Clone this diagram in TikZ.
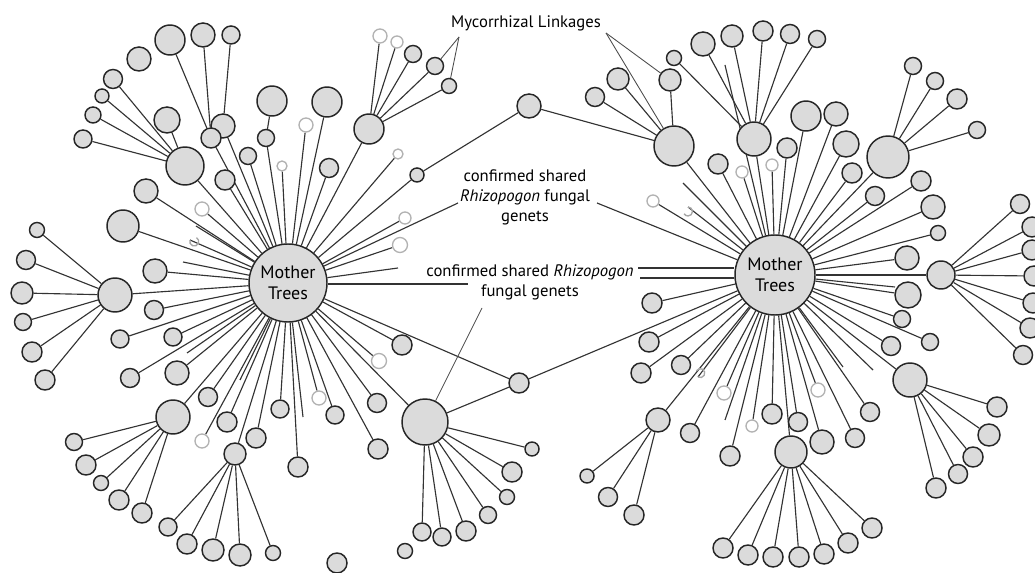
\documentclass[tikz,border=0pt]{standalone}
\usepackage{fontspec}
\setmainfont{PT Sans}
\usetikzlibrary{backgrounds}
\newcommand\mkgroup[2]{\foreach \n/\x/\y/\r in {#2} {\node[leaf=\r] (\n) at (\x,\y) {};
  \begin{pgfonlayer}{background}\draw[lk] (#1) -- (\n);\end{pgfonlayer}}}
\newcommand\mkfaint[2]{\foreach \n/\x/\y/\r in {#2} {\node[faint=\r] (\n) at (\x,\y) {};
  \begin{pgfonlayer}{background}\draw[lk] (#1) -- (\n);\end{pgfonlayer}}}
\newcommand\mkfree[2]{\foreach \n/\x/\y in {#2} {\coordinate (\n) at (\x,\y);
  \begin{pgfonlayer}{background}\draw[lk] (#1) -- (\n);\end{pgfonlayer}}}
\begin{document}
\begin{tikzpicture}[x=0.75pt,y=-0.75pt,
  leaf/.style={circle,draw=black!85,line width=1.1pt,fill=black!14,inner sep=0pt,minimum size={1.5pt*#1}},
  faint/.style={circle,draw=black!30,line width=1pt,fill=white,inner sep=0pt,minimum size={1.5pt*#1}},
  lk/.style={draw=black!80,line width=0.85pt},
  ptr/.style={draw=black!70,line width=0.65pt},
  hook/.style={draw=black!35,line width=1pt},
  lbl/.style={font=\fontsize{12.5}{15}\selectfont,align=center,inner sep=1pt},
  mt/.style={leaf=#1,font=\fontsize{13.5}{15.5}\selectfont,align=center}]
\useasboundingbox (0,0) rectangle (1035,573);
\begin{pgfonlayer}{background}
\fill[white] (0,0) rectangle (1035,573);
\end{pgfonlayer}
\clip (0,0) rectangle (1035,573);

% ---------------- left mother tree ----------------
\node[mt=39] (LM) at (288,283) {Mother\\Trees};
\mkgroup{LM}{h1/185/166/19, a1/146/191/12, a2/123/226/16, a3/155/271/12, h2/115/295/17,
  a4/154/310/9.5, a5/120/339/9, a6/173/337/9, a7/130/378/9.5, a8/177/373/12, a9/208/397/9.5,
  h3/173/417/17, a10/227/422/10, a11/256/438/10, h4/235/454/11, a12/280/409/9, a13/298/467/10,
  a14/335/415/9, a15/377/403/9.5, a16/378/449/10, a17/402/345/10, h5/425/422/23, k2/519/383/10,
  a18/225/180/10, a19/248/156/8.5, a20/266/138/8.5, a22/327/102/15,
  a23/329/168/9.5, h6/369/129/15, k0/417/175/7, t1/223/126/12, t2/211/138/10}
\mkgroup{a20}{a21/272/101/15}
\mkfaint{LM}{f1/319/398/7, f2/379/361/7.5, f3/202/441/7, f4/306/125/7, f5/282/166/5,
  f6/398/154/5, f7/405/218/6, f8/400/245/7.5, f9/202/209/7}
\mkfree{LM}{x1/398/268, x2/303/417, x3/187/353, x4/240/380, x5/183/262, x6/196/226}
\mkfree{LM}{hk1/190/240}
\draw[hook] (hk1) arc[start angle=200,end angle=-60,radius=4.5];
\mkgroup{h1}{b1/113/79/9.5, b2/102/96/7, b3/93/115/8, b4/83/139/9, b5/167/120/13}
\node[leaf=12] (b6) at (139,59) {};
\mkgroup{t2}{c1/170/40/15, c2/203/35/12}
\mkgroup{t1}{c3/231/35/9}
\mkgroup{h2}{d1/37/230/7.5, d2/26/260/9.5, d3/22/293/11, d4/23/322/8.5, d5/32/352/10, d6/45/380/10}
\mkgroup{h3}{e1/74/442/8.5, e2/86/465/10, e3/101/483/7.5, e4/119/500/10, e5/142/513/10}
\mkgroup{h4}{g1/168/527/9, g2/187/544/10, g3/213/550/11, g4/240/555/11, g5/273/553/7.5}
\mkgroup{h5}{i1/422/532/9, i2/442/537/9, i3/466/531/10, i4/488/515/8.5, i5/507/497/7.5, i6/512/472/10, i7/532/449/7}
\mkgroup{h6}{j1/413/54/8.5, j2/435/66/8.5, j3/449/86/7.5}
\mkfaint{h6}{j4/380/36/7, j5/397/42/6}
\node[leaf=7.5] (o1) at (405,551) {};
\node[leaf=10] (o2) at (337,563) {};

% ---------------- right mother tree ----------------
\node[mt=40] (RM) at (775,275) {Mother\\Trees};
\mkgroup{RM}{rh1/674/146/20, rh2/754/139/17, m1/806/116/15, m2/836/114/12, m3/846/144/13,
  m4/852/173/10, m5/787/148/10, m6/718/164/10, rh3/888/157/21, m7/875/196/9.5, m8/921/181/10,
  m9/933/207/12, m10/938/233/7.5, m11/907/258/12, m12/908/295/13, rh4/941/275/14, m13/902/319/8.5,
  m14/930/342/8.5, m15/891/346/9.5, rh5/910/380/17, m16/870/412/9.5, m17/855/438/9.5,
  m18/822/442/12, m19/798/422/9.5, m20/772/414/10, rh6/791/452/16, m21/730/456/10,
  m22/690/433/9.5, m23/681/365/9.5, m24/641/373/10, m25/649/342/10, m26/652/303/10, rh7/658/420/12}
\mkfaint{RM}{p1/742/172/6, p2/772/165/6, p3/653/201/6, p4/818/390/7, p5/724/393/7, p6/752/426/6}
\mkfree{RM}{y1/725/65, y2/683/183, y3/843/367, y4/873/370, y5/725/420, y6/895/287}
\mkfree{RM}{hk2/688/207, hk3/698/377}
\draw[hook] (hk2) arc[start angle=-90,end angle=150,radius=4.5];
\draw[hook] (hk3) arc[start angle=120,end angle=-150,radius=4.5];
\mkgroup{rh1}{k1/529/106/12, n1/595/97/9.5, n2/618/79/11, n3/670/80/11}
\mkgroup{rh2}{q1/703/44/12, q2/732/36/11, q3/763/31/10, q4/790/34/9.5, q5/817/39/8.5, q6/674/58/7.5}
\mkgroup{rh3}{r1/913/66/8.5, r2/935/81/8.5, r3/957/99/10, r4/977/130/8.5}
\mkgroup{rh4}{s1/1020/204/9.5, s2/1032/227/10, s3/1032/250/10, s4/1034/276/10, s5/1033/303/10, s6/1030/328/10, s7/1023/355/9.5}
\mkgroup{rh5}{u1/997/407/10, u2/989/435/11, u3/973/457/10, u4/958/474/9.5, u5/936/488/10}
\mkgroup{rh6}{v1/723/548/10, v2/748/555/10, v3/773/557/10, v4/799/557/10, v5/824/554/10, v6/848/543/10, v7/872/528/10}
\mkgroup{rh7}{w1/587/476/7, w2/608/497/9.5, w3/634/515/10}

% ---------------- links between the two networks ----------------
\begin{pgfonlayer}{background}
\draw[lk] (k0) -- (k1);
\draw[lk] (h5) -- (k2);
\draw[lk] (k2) -- (RM);
\end{pgfonlayer}

% ---------------- labels ----------------
\node[lbl] (myc) at (526,23) {Mycorrhizal Linkages};
\coordinate (mycL) at (459,37);
\coordinate (mycR) at (606,33);
\draw[ptr] (mycL) -- (j2);
\draw[ptr] (mycL) -- (j3);
\draw[ptr] (mycR) -- (n3);
\draw[ptr] (mycR) -- (rh1);

\node[lbl] (lab1) at (525,197) {confirmed shared\\\textit{Rhizopogon} fungal\\genets};
\coordinate (l1a) at (458,203);
\coordinate (l1b) at (597,203);
\begin{pgfonlayer}{background}
\draw[lk] (LM) -- (l1a);
\draw[lk] (l1b) -- (RM);
\end{pgfonlayer}

\node[lbl] (lab2) at (530,282) {confirmed shared \textit{Rhizopogon}\\fungal genets};
\coordinate (l2a) at (468,284);
\coordinate (l2b) at (638,268);
\coordinate (l2c) at (640,278);
\coordinate (l2d) at (482,308);
\begin{pgfonlayer}{background}
\draw[lk] (LM.east) ++(0,1) -- (l2a);
\draw[lk] (l2b) -- (RM.west |- l2b);
\draw[lk] (l2c) -- (RM.west |- l2c);
\end{pgfonlayer}
\draw[ptr] (l2d) -- (h5);
\end{tikzpicture}
\end{document}
